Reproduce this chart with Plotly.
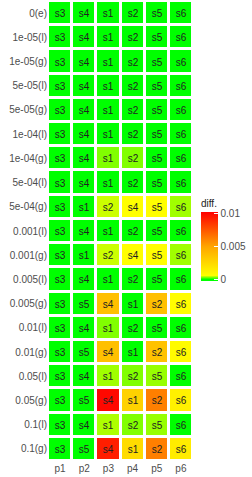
import plotly.graph_objects as go

rows = ["0(e)", "1e-05(l)", "1e-05(g)", "5e-05(l)", "5e-05(g)", "1e-04(l)", "1e-04(g)",
        "5e-04(l)", "5e-04(g)", "0.001(l)", "0.001(g)", "0.005(l)", "0.005(g)",
        "0.01(l)", "0.01(g)", "0.05(l)", "0.05(g)", "0.1(l)", "0.1(g)"]
cols = ["p1", "p2", "p3", "p4", "p5", "p6"]

base = ["s3", "s4", "s1", "s2", "s5", "s6"]
alt1 = ["s3", "s1", "s2", "s4", "s5", "s6"]
alt2 = ["s3", "s5", "s4", "s1", "s2", "s6"]
labels = [base, base, base, base, base, base, base,
          base, alt1, base, alt1, base, alt2,
          base, alt2, base, alt2, base, alt2]

diff = [
    [0, 0, 0, 0, 0, 0],
    [0, 0, 0, 0, 0, 0],
    [0, 0, 0, 0, 0, 0],
    [0, 0, 0, 0, 0, 0],
    [0, 0, 0, 0, 0, 0],
    [0, 0, 0, 0, 0, 0],
    [0, 0, 0.0003, 0.0003, 0, 0],
    [0, 0, 0, 0, 0, 0],
    [0, 0, 0.00047, 0.0006, 0.00065, 0.00037],
    [0, 0, 0, 0, 0, 0],
    [0, 0, 0.00047, 0.0006, 0.00065, 0.00037],
    [0, 0, 0, 0, 0, 0],
    [0, 0, 0.0037, 0, 0.0037, 0.0007],
    [0, 0, 0.0003, 0, 0, 0],
    [0, 0, 0.0037, 0, 0.0036, 0.0008],
    [0, 0, 0.00037, 0.0003, 0.00035, 0],
    [0, 0, 0.0100, 0.0028, 0.0062, 0.0013],
    [0, 0, 0.0004, 0.0003, 0.00035, 0],
    [0, 0, 0.0093, 0.0023, 0.0062, 0.0015],
]

tick_vals = [0, 0.005, 0.01]
tick_text = ["0", "0.005", "0.01"]

W, H = 252, 477
ml, mr, mt, mb = 47.5, 59, 1, 16
ph = H - mt - mb

fig = go.Figure(go.Heatmap(
    z=diff, x=cols, y=rows, text=labels, texttemplate="%{text}",
    textfont=dict(size=10, color="#222222", family="Liberation Sans"),
    zmin=-0.00025, zmax=0.01025,
    colorscale=[[0, "#00FF00"], [0.024, "#00FF00"], [0.08, "#FFFF00"],
                [0.5, "#FFA500"], [1, "#FF0000"]],
    xgap=3, ygap=3, hoverinfo="skip",
    colorbar=dict(
        title=dict(text="diff.", side="top", font=dict(size=10, color="#222222")),
        thickness=17, len=85, lenmode="pixels",
        x=(201 - ml) / (W - ml - mr), xanchor="left", xpad=0,
        y=1 - (238.5 - mt) / ph, yanchor="middle", ypad=0,
        outlinewidth=0,
        tickvals=tick_vals, ticktext=tick_text,
        ticks="inside", ticklen=4, tickcolor="white",
        tickfont=dict(size=10, color="#4d4d4d"),
    ),
))

fig.update_layout(
    width=W, height=H,
    margin=dict(l=ml, r=mr, t=mt, b=mb, autoexpand=False),
    paper_bgcolor="white", plot_bgcolor="white",
    font=dict(family="Liberation Sans", size=10, color="#4d4d4d"),
    xaxis=dict(showgrid=False, zeroline=False, ticks="", automargin=False,
               tickfont=dict(size=10, color="#4d4d4d")),
    yaxis=dict(showgrid=False, zeroline=False, ticks="", autorange="reversed",
               automargin=False, tickfont=dict(size=10, color="#4d4d4d")),
)

fig.write_html("out.html", config={"displayModeBar": False},
               post_script="document.body.style.margin='0';document.body.style.overflow='hidden';")
